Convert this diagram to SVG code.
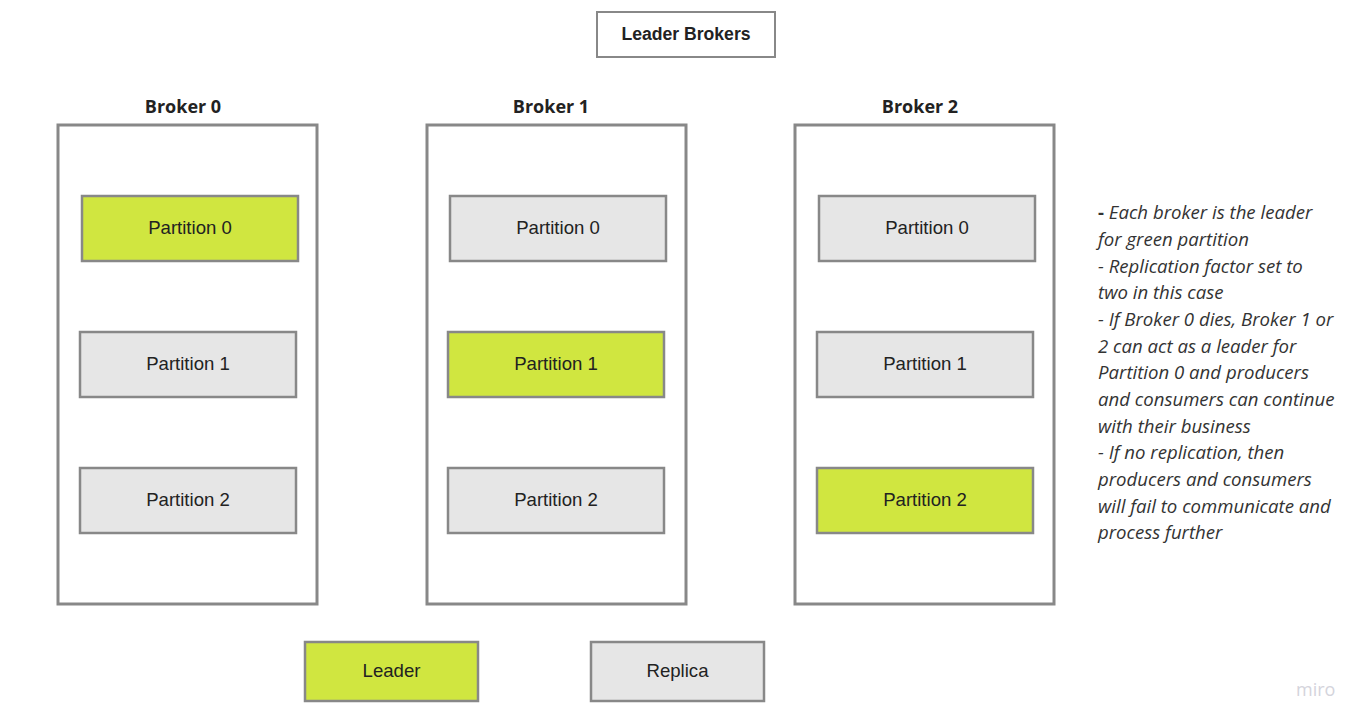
<svg xmlns="http://www.w3.org/2000/svg" width="1371" height="728" viewBox="0 0 1371 728">
<style>
.box{fill:#fff;stroke:#888;stroke-width:2}
.broker{fill:#fff;stroke:#888;stroke-width:3}
.lead{fill:#d0e640;stroke:#888;stroke-width:2.5}
.rep{fill:#e6e6e6;stroke:#888;stroke-width:2.5}
.pt{font-family:"Liberation Sans",Arial,sans-serif;font-size:18.6px;fill:#222;text-anchor:middle;dominant-baseline:central}
.bt{font-family:"Open Sans",sans-serif;font-weight:bold;font-size:18px;fill:#222;text-anchor:middle}
.note{font-family:"Open Sans",sans-serif;font-style:italic;font-size:18.6px;fill:#333}
</style>
<rect width="1371" height="728" fill="#fff"/>
<g id="title">
<rect class="box" x="597" y="12" width="178" height="45"/>
<text x="686" y="33.5" class="pt" style="font-weight:bold;font-size:17.6px">Leader Brokers</text>
</g>
<g id="broker0">
<text x="183" y="113" class="bt">Broker 0</text>
<rect class="broker" x="58" y="125" width="259" height="479"/>
</g>
<g id="broker1">
<text x="551" y="113" class="bt">Broker 1</text>
<rect class="broker" x="427" y="125" width="259" height="479"/>
</g>
<g id="broker2">
<text x="920" y="113" class="bt">Broker 2</text>
<rect class="broker" x="795" y="125" width="259" height="479"/>
</g>
<g id="b0p0"><rect class="lead" x="82" y="196" width="216" height="65"/><text class="pt" x="190" y="227">Partition 0</text></g>
<g id="b0p1"><rect class="rep" x="80" y="332" width="216" height="65"/><text class="pt" x="188" y="363">Partition 1</text></g>
<g id="b0p2"><rect class="rep" x="80" y="468" width="216" height="65"/><text class="pt" x="188" y="499">Partition 2</text></g>
<g id="b1p0"><rect class="rep" x="450" y="196" width="216" height="65"/><text class="pt" x="558" y="227">Partition 0</text></g>
<g id="b1p1"><rect class="lead" x="448" y="332" width="216" height="65"/><text class="pt" x="556" y="363">Partition 1</text></g>
<g id="b1p2"><rect class="rep" x="448" y="468" width="216" height="65"/><text class="pt" x="556" y="499">Partition 2</text></g>
<g id="b2p0"><rect class="rep" x="819" y="196" width="216" height="65"/><text class="pt" x="927" y="227">Partition 0</text></g>
<g id="b2p1"><rect class="rep" x="817" y="332" width="216" height="65"/><text class="pt" x="925" y="363">Partition 1</text></g>
<g id="b2p2"><rect class="lead" x="817" y="468" width="216" height="65"/><text class="pt" x="925" y="499">Partition 2</text></g>
<g id="legend-leader"><rect class="lead" x="305" y="642" width="173" height="59"/><text class="pt" x="391.5" y="670">Leader</text></g>
<g id="legend-replica"><rect class="rep" x="591" y="642" width="173" height="59"/><text class="pt" x="677.5" y="670">Replica</text></g>
<g id="notes">
<text class="note" x="1098" y="219"><tspan font-style="normal" font-weight="bold">-</tspan> Each broker is the leader</text>
<text class="note" x="1098" y="246">for green partition</text>
<text class="note" x="1098" y="273">- Replication factor set to</text>
<text class="note" x="1098" y="299">two in this case</text>
<text class="note" x="1098" y="326">- If Broker 0 dies, Broker 1 or</text>
<text class="note" x="1098" y="353">2 can act as a leader for</text>
<text class="note" x="1098" y="379">Partition 0 and producers</text>
<text class="note" x="1098" y="406">and consumers can continue</text>
<text class="note" x="1098" y="433">with their business</text>
<text class="note" x="1098" y="459">- If no replication, then</text>
<text class="note" x="1098" y="486">producers and consumers</text>
<text class="note" x="1098" y="513">will fail to communicate and</text>
<text class="note" x="1098" y="539">process further</text>
</g>
<text x="1296" y="696" font-family="Open Sans,sans-serif" font-size="18" fill="#d4d4dc">miro</text>
</svg>
